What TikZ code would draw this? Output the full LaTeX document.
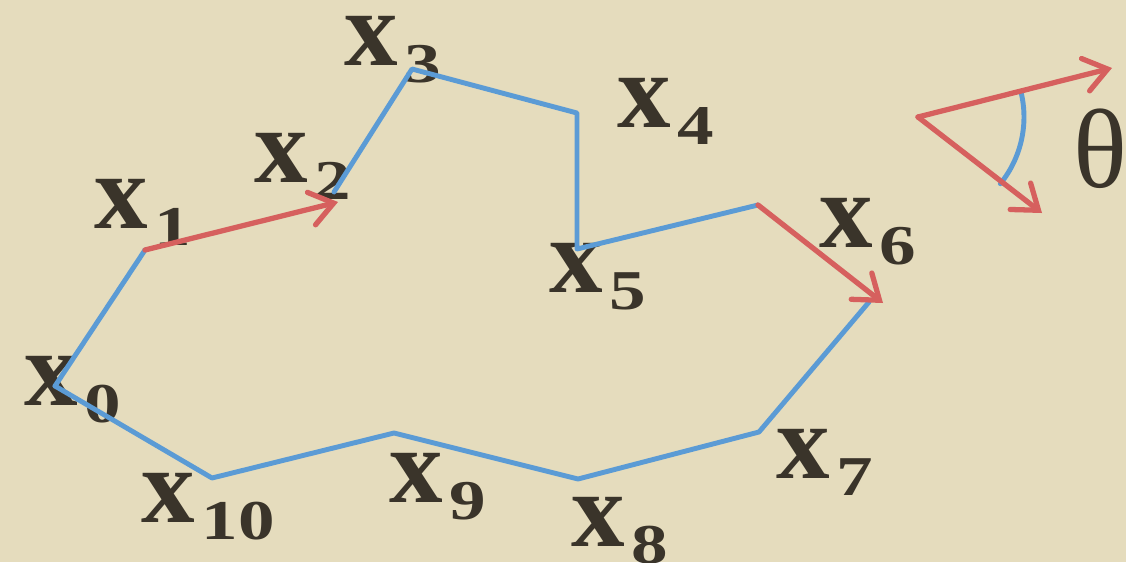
\documentclass[tikz,border=0pt]{standalone}
\usepackage{fontspec}
\setmainfont{Liberation Serif}
\newfontfamily\idxfont[FakeStretch=1.3]{Liberation Serif}
\usetikzlibrary{arrows.meta}

\definecolor{paper}{HTML}{E5DCBD}
\definecolor{edgeblue}{HTML}{5B9BD5}
\definecolor{edgered}{HTML}{D6605E}
\definecolor{ink}{HTML}{3A342A}

\newcommand{\xlab}[1]{x\hspace{4pt}\raisebox{-10pt}{\fontsize{32}{32}\idxfont\bfseries #1}}

\tikzset{
  edge/.style={edgeblue, line width=2.8pt, line join=round, line cap=round},
  move/.style={edgered, line width=3pt, line cap=round,
               -{Straight Barb[length=13pt,width=19pt,line cap=round]}},
  lbl/.style={ink, inner sep=0pt, anchor=base west, text height=0.48em,
              text depth=0.2em, font=\fontsize{61}{61}\selectfont\bfseries},
}

\begin{document}
\begin{tikzpicture}[x=0.02cm, y=-0.02cm]
  \fill[paper] (0,0) rectangle (1126,562);
  \useasboundingbox (0,0) rectangle (1126,562);

  % labels
  \node[lbl] (l0) at (24,405) {\xlab{0}};
  \node[lbl] (l1) at (94,228) {\xlab{1}};
  \node[lbl] (l2) at (254,182) {\xlab{2}};
  \node[lbl] (l3) at (344,65) {\xlab{3}};
  \node[lbl] (l4) at (617,127) {\xlab{4}};
  \node[lbl] (l5) at (549,292) {\xlab{5}};
  \node[lbl] (l6) at (819,247) {\xlab{6}};
  \node[lbl] (l7) at (776,478) {\xlab{7}};
  \node[lbl] (l8) at (571,546) {\xlab{8}};
  \node[lbl] (l9) at (389,502) {\xlab{9}};
  \node[lbl] (l10) at (141,522) {\xlab{10}};

  % path points
  \coordinate (p0) at (55,386);
  \coordinate (p1) at (145,250);
  \coordinate (p2) at (338,202);
  \coordinate (p2b) at (334,192);
  \coordinate (p3) at (412,69);
  \coordinate (p4) at (577,113);
  \coordinate (p5) at (577,249);
  \coordinate (p6) at (758,205);
  \coordinate (p7) at (883,303);
  \coordinate (p7b) at (869,302);
  \coordinate (p8) at (759,432);
  \coordinate (p9) at (578,479);
  \coordinate (p10) at (394,433);
  \coordinate (p11) at (212,478);

  \draw[edge] (p0) -- (p1);
  \draw[edge] (p2b) -- (p3) -- (p4) -- (p5) -- (p6);
  \draw[edge] (p7b) -- (p8) -- (p9) -- (p10) -- (p11) -- (p0);
  \draw[move] (p1) -- (p2);
  \draw[move] (p6) -- (p7);

  % turning angle
  \coordinate (apex) at (918,117);
  \coordinate (dirA) at (1112,68);
  \coordinate (dirB) at (1042,213);
  \draw[edge] (apex) ++(14:2.12cm) arc[start angle=14, end angle=-39, radius=2.12cm];
  \draw[move] (apex) -- (dirA);
  \draw[move] (apex) -- (dirB);
  \node[ink, inner sep=0pt, anchor=base, font=\fontsize{64}{64}\selectfont] (th) at (1100,187) {θ};
\end{tikzpicture}
\end{document}
